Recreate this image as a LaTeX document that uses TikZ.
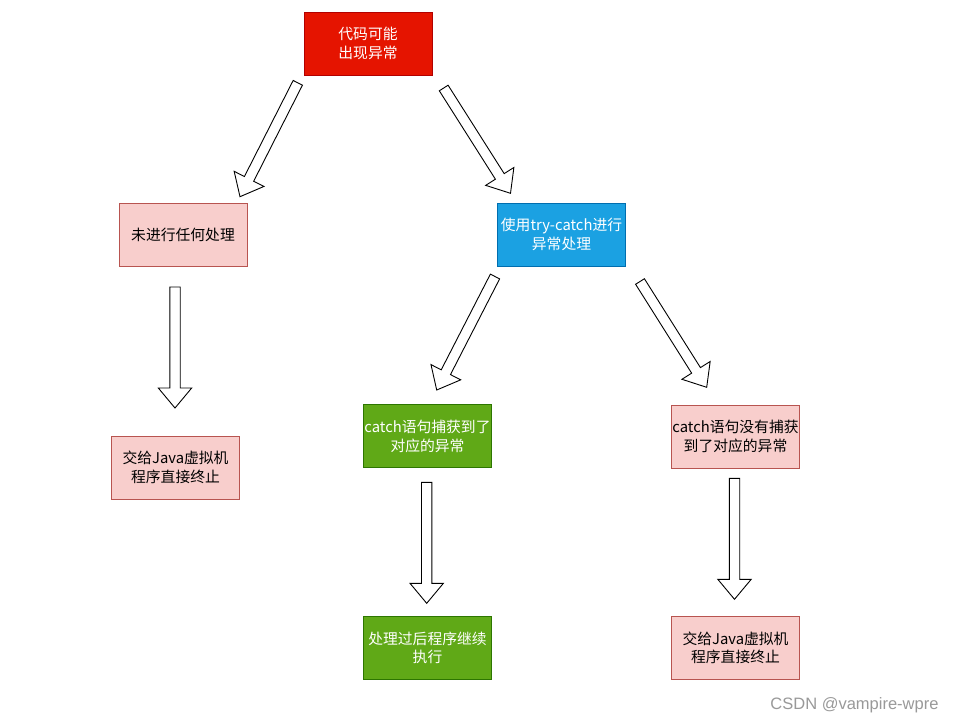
\documentclass[tikz,border=0pt]{standalone}
\usepackage{fontspec}
\setmainfont{Noto Sans CJK SC}
\newfontfamily\wmfont{Liberation Sans}
\usetikzlibrary{calc}
\definecolor{redfill}{HTML}{E51400}
\definecolor{redline}{HTML}{B20000}
\definecolor{bluefill}{HTML}{1BA1E2}
\definecolor{blueline}{HTML}{006EAF}
\definecolor{greenfill}{HTML}{60A917}
\definecolor{greenline}{HTML}{2D7600}
\definecolor{pinkfill}{HTML}{F8CECC}
\definecolor{pinkline}{HTML}{B85450}
\tikzset{
  box/.style={rectangle, minimum width=128pt, minimum height=63pt, inner sep=0pt,
    line width=0.9pt, align=center, font=\fontsize{14.8}{18.5}\selectfont},
  redbox/.style={box, fill=redfill, draw=redline, text=white},
  bluebox/.style={box, fill=bluefill, draw=blueline, text=white},
  greenbox/.style={box, fill=greenfill, draw=greenline, text=white},
  pinkbox/.style={box, fill=pinkfill, draw=pinkline, text=black},
  blockarrow/.style={draw=black, fill=white, line width=0.9pt, line join=miter}
}
\newcommand\blockarr[2]{%
  \path ($(#2)!20pt!(#1)$) coordinate (hb);
  \draw[blockarrow] ($(#1)!5.2pt!90:(#2)$) -- ($(hb)!5.2pt!-90:(#1)$)
    -- ($(hb)!16.7pt!-90:(#1)$) -- (#2) -- ($(hb)!16.7pt!90:(#1)$)
    -- ($(hb)!5.2pt!90:(#1)$) -- ($(#1)!5.2pt!-90:(#2)$) -- cycle;}
\begin{document}
\begin{tikzpicture}[x=1pt, y=-1pt]
\fill[white] (0,0) rectangle (953,723);
\useasboundingbox (0,0) rectangle (953,723);

\node[redbox]   (top)   at (368,43.5)   {代码可能\\出现异常};
\node[pinkbox]  (none)  at (183,234.5)  {未进行任何处理};
\node[bluebox]  (try)   at (561.5,234.5) {使用try-catch进行\\异常处理};
\node[pinkbox]  (jvm1)  at (175.5,467.5) {交给Java虚拟机\\程序直接终止};
\node[greenbox] (catch) at (427.5,436.2) {catch语句捕获到了\\对应的异常};
\node[pinkbox]  (miss)  at (735.5,436.5) {catch语句没有捕获\\到了对应的异常};
\node[greenbox] (cont)  at (427.5,648)  {处理过后程序继续\\执行};
\node[pinkbox]  (jvm2)  at (735.5,648)  {交给Java虚拟机\\程序直接终止};

\node[text=gray!80, font=\wmfont\fontsize{16.5}{19}\selectfont, anchor=east] (wm) at (942,705.5) {CSDN @vampire-wpre};

\coordinate (a1s) at (297.8,82.8);  \coordinate (a1e) at (240,196.7);
\coordinate (a2s) at (443.7,88);    \coordinate (a2e) at (510.5,193.3);
\coordinate (a3s) at (495,276.5);   \coordinate (a3e) at (436.7,390);
\coordinate (a4s) at (640,281.5);   \coordinate (a4e) at (706.7,387.3);
\coordinate (a5s) at (175,287);     \coordinate (a5e) at (175,408);
\coordinate (a6s) at (426.7,482.3); \coordinate (a6e) at (426.7,603.3);
\coordinate (a7s) at (734.5,478.3); \coordinate (a7e) at (734.5,599.3);

\blockarr{a1s}{a1e}
\blockarr{a2s}{a2e}
\blockarr{a3s}{a3e}
\blockarr{a4s}{a4e}
\blockarr{a5s}{a5e}
\blockarr{a6s}{a6e}
\blockarr{a7s}{a7e}
\end{tikzpicture}
\end{document}
